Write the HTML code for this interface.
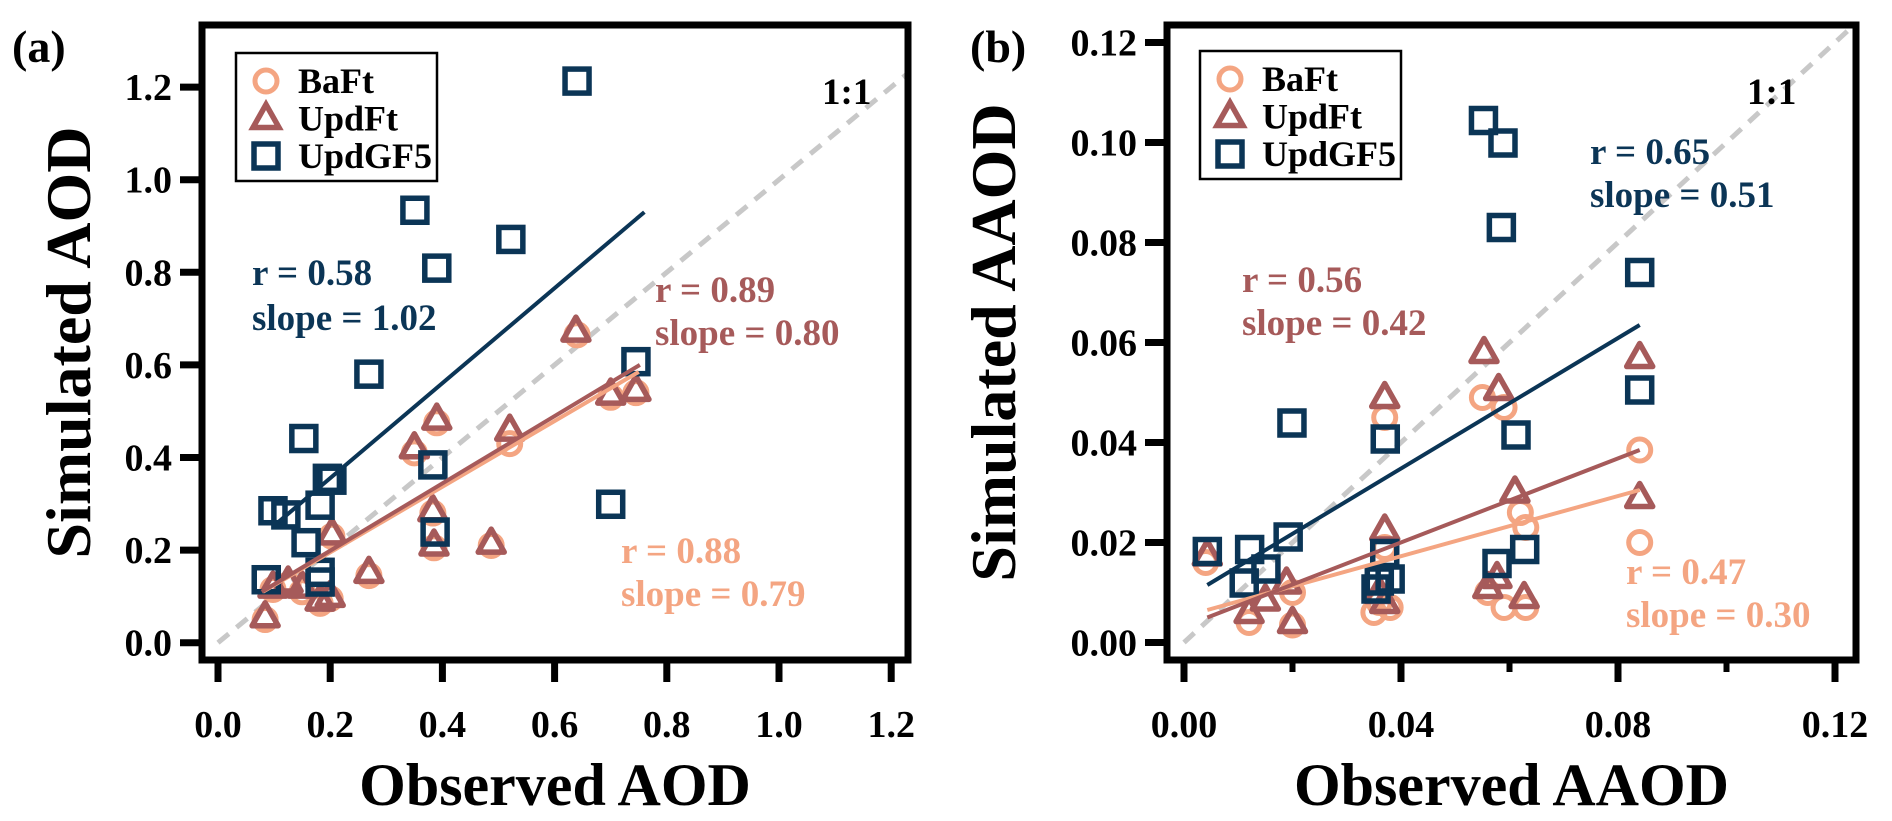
<!DOCTYPE html>
<html><head><meta charset="utf-8"><style>
html,body{margin:0;padding:0;background:#fff;}
svg{display:block;}
svg text{font-family:"Liberation Serif","Times New Roman","DejaVu Serif",serif;font-weight:bold;}
</style></head><body>
<svg id="chart" width="1892" height="821" viewBox="0 0 1892 821" xmlns="http://www.w3.org/2000/svg" font-family="Liberation Serif, serif" font-weight="bold"></svg>
<script>
// ---- Panel (a) data: AOD ----
const aXTicks = [0.0, 0.2, 0.4, 0.6, 0.8, 1.0, 1.2];
const aYTicks = [0.0, 0.2, 0.4, 0.6, 0.8, 1.0, 1.2];
const aBaFtX = [0.64,0.39,0.35,0.52,0.70,0.745,0.383,0.385,0.487,0.203,0.269,0.125,0.084,0.182,0.2,0.15,0.098];
const aBaFtY = [0.665,0.475,0.41,0.43,0.53,0.54,0.28,0.205,0.21,0.23,0.145,0.125,0.05,0.085,0.095,0.11,0.115];
const aUpdFtX = [0.638,0.39,0.35,0.52,0.70,0.745,0.383,0.385,0.487,0.203,0.269,0.125,0.084,0.182,0.2,0.15,0.098];
const aUpdFtY = [0.673,0.483,0.421,0.459,0.537,0.545,0.285,0.211,0.215,0.235,0.152,0.131,0.056,0.092,0.10,0.12,0.12];
const aGF5X = [0.64,0.351,0.522,0.39,0.269,0.745,0.153,0.203,0.195,0.383,0.098,0.121,0.182,0.157,0.70,0.387,0.182,0.182,0.086];
const aGF5Y = [1.213,0.934,0.871,0.809,0.58,0.607,0.441,0.351,0.355,0.384,0.285,0.276,0.297,0.216,0.299,0.239,0.152,0.131,0.136];
const aFitX = [[0.08,0.75],[0.078,0.752],[0.107,0.76]];
const aFitY = [[0.11,0.585],[0.11,0.60],[0.26,0.93]];
// ---- Panel (b) data: AAOD ----
const bXTicks = [0.00, 0.04, 0.08, 0.12];
const bXMinor = [0.02, 0.06, 0.10];
const bYTicks = [0.00, 0.02, 0.04, 0.06, 0.08, 0.10, 0.12];
const bBaFtX = [0.055,0.059,0.037,0.084,0.084,0.062,0.063,0.059,0.063,0.004,0.020,0.012,0.036,0.035,0.038,0.020,0.037,0.056];
const bBaFtY = [0.049,0.047,0.045,0.0385,0.020,0.026,0.023,0.007,0.007,0.016,0.0035,0.004,0.008,0.006,0.007,0.010,0.019,0.010];
const bUpdFtX = [0.0553,0.058,0.037,0.061,0.037,0.0043,0.0189,0.0577,0.084,0.084,0.0627,0.056,0.012,0.015,0.020,0.037,0.036];
const bUpdFtY = [0.058,0.0506,0.049,0.0301,0.0225,0.0175,0.0119,0.013,0.057,0.029,0.009,0.011,0.006,0.0085,0.004,0.008,0.010];
const bGF5X = [0.0552,0.0588,0.0585,0.0199,0.0371,0.0612,0.0043,0.0121,0.0192,0.0151,0.0111,0.037,0.036,0.038,0.0354,0.0577,0.0628,0.084,0.084];
const bGF5Y = [0.1044,0.0999,0.083,0.0439,0.0407,0.0415,0.0182,0.0186,0.0211,0.0147,0.0119,0.0178,0.0123,0.0127,0.0107,0.0158,0.0186,0.074,0.0505];
const bFitX = [[0.0043,0.084],[0.0043,0.084],[0.0043,0.084]];
const bFitY = [[0.0065,0.0305],[0.005,0.0385],[0.0115,0.0635]];

const C_BA = "#F4A582", C_UF = "#A65A5A", C_GF = "#0B3556";
const NS = "http://www.w3.org/2000/svg";
const FF = '"Liberation Serif", "Times New Roman", serif';
const svg = document.getElementById('chart');
function mk(tag, attrs, parent, text){
  const e = document.createElementNS(NS, tag);
  for (const k in attrs) e.setAttribute(k, attrs[k]);
  if (tag === 'text') { e.style.fontFamily = FF; e.style.fontWeight = 'bold'; }
  if (text !== undefined) e.textContent = text;
  (parent||svg).appendChild(e);
  return e;
}

function panel(P){
  const g = mk('g', {});
  
  
  const sx = v => P.x0 + v*P.kx, sy = v => P.y0 - v*P.ky;
  const cid = P.name + '-clip';
  const defs = mk('defs', {}, g);
  const cp = mk('clipPath', {id: cid}, defs);
  mk('rect', {x:P.L, y:P.T, width:P.R-P.L, height:P.B-P.T}, cp);
  const plot = mk('g', {'clip-path':'url(#'+cid+')'}, g);
  const d11 = mk('line', {x1:sx(P.oneFrom), y1:sy(P.oneFrom), x2:sx(P.oneTo), y2:sy(P.oneTo), stroke:'#c8c8c8', 'stroke-width':5, 'stroke-dasharray':'14 10'}, plot);
  
  
  const cols = [C_BA, C_UF, C_GF];
  const names = ['baft', 'updft', 'updgf5'];
  P.baX.forEach((v,i)=>{
    const c = mk('circle', {cx:sx(v), cy:sy(P.baY[i]), r:11, fill:'none', stroke:C_BA, 'stroke-width':5}, plot);
    
    
  });
  P.ufX.forEach((v,i)=>{
    const cx = sx(v), cy = sy(P.ufY[i]);
    const t = mk('polygon', {points:`${cx},${cy-14} ${cx+13},${cy+9} ${cx-13},${cy+9}`, fill:'none', stroke:C_UF, 'stroke-width':5.5, 'stroke-linejoin':'round'}, plot);
    
    
  });
  P.gfX.forEach((v,i)=>{
    const cx = sx(v), cy = sy(P.gfY[i]);
    const s = mk('rect', {x:cx-12, y:cy-12, width:24, height:24, fill:'none', stroke:C_GF, 'stroke-width':5.5}, plot);
    
    
  });
  P.fitX.forEach((fx,i)=>{
    const l = mk('line', {x1:sx(fx[0]), y1:sy(P.fitY[i][0]), x2:sx(fx[1]), y2:sy(P.fitY[i][1]), stroke:cols[i], 'stroke-width':4}, plot);
    
    
  });
  const fr = mk('rect', {x:P.L, y:P.T, width:P.R-P.L, height:P.B-P.T, fill:'none', stroke:'#000', 'stroke-width':7}, g);
  
  
  P.yTicks.forEach(v=>{
    const y = sy(v);
    mk('line', {x1:P.L-22, y1:y, x2:P.L, y2:y, stroke:'#000', 'stroke-width':7}, g);
    const t = mk('text', {x:P.L-30, y:y+13, 'text-anchor':'end', 'font-size':38}, g, v.toFixed(P.dec));
    
    
  });
  P.xTicks.forEach(v=>{
    const x = sx(v);
    mk('line', {x1:x, y1:P.B, x2:x, y2:P.B+22, stroke:'#000', 'stroke-width':7}, g);
    const t = mk('text', {x:x, y:P.B+77, 'text-anchor':'middle', 'font-size':38}, g, v.toFixed(P.dec));
    
    
  });
  (P.xMinor||[]).forEach(v=>{
    const x = sx(v);
    mk('line', {x1:x, y1:P.B, x2:x, y2:P.B+12, stroke:'#000', 'stroke-width':6}, g);
  });
  const xt = mk('text', {x:(P.L+P.R)/2, y:805, 'text-anchor':'middle', 'font-size':60}, g, P.xTitle);
  
  
  const yt = mk('text', {x:0, y:0, 'text-anchor':'middle', 'font-size':64, transform:`translate(${P.yTitleX},${(P.T+P.B)/2}) rotate(-90)`}, g, P.yTitle);
  
  
  const pl = mk('text', {x:P.labX, y:62, 'font-size':46}, g, P.label);
  
  
  const lg = mk('g', {}, g);
  
  
  mk('rect', {x:P.legX, y:P.legY, width:201, height:128, fill:'#fff', stroke:'#000', 'stroke-width':2.5}, lg);
  const labs = ['BaFt','UpdFt','UpdGF5'];
  labs.forEach((s,i)=>{
    const cy = P.legY + 28 + i*37.5, cx = P.legX + 30;
    const e = mk('g', {}, lg);
    
    
    if (i===0) mk('circle', {cx:cx, cy:cy, r:11, fill:'none', stroke:C_BA, 'stroke-width':5}, e);
    if (i===1) mk('polygon', {points:`${cx},${cy-14} ${cx+13},${cy+9} ${cx-13},${cy+9}`, fill:'none', stroke:C_UF, 'stroke-width':5.5}, e);
    if (i===2) mk('rect', {x:cx-12, y:cy-12, width:24, height:24, fill:'none', stroke:C_GF, 'stroke-width':5.5}, e);
    mk('text', {x:P.legX+62, y:cy+12, 'font-size':36}, e, s);
  });
  P.ann.forEach(a=>{
    const t = mk('text', {x:a[0], y:a[1], 'font-size':37, fill:a[3]}, g, a[2]);
    
    
  });
}

panel({name:'panel-a', L:202, R:908, T:25, B:660, x0:218, kx:561, y0:642.7, ky:463,
  oneFrom:0, oneTo:1.25, dec:1, xTicks:aXTicks, yTicks:aYTicks,
  baX:aBaFtX, baY:aBaFtY, ufX:aUpdFtX, ufY:aUpdFtY, gfX:aGF5X, gfY:aGF5Y, fitX:aFitX, fitY:aFitY,
  xTitle:'Observed AOD', yTitle:'Simulated AOD', yTitleX:90, label:'(a)', labX:12,
  legX:236, legY:53,
  ann:[[252,285,'r = 0.58',C_GF],[252,330,'slope = 1.02',C_GF],[655,302,'r = 0.89',C_UF],[655,345,'slope = 0.80',C_UF],
       [621,563,'r = 0.88',C_BA],[621,606,'slope = 0.79',C_BA],[822,104,'1:1','#000']]});

panel({name:'panel-b', L:1167, R:1856, T:25, B:660, x0:1184, kx:5425, y0:642.5, ky:5000,
  oneFrom:0, oneTo:0.125, dec:2, xTicks:bXTicks, xMinor:bXMinor, yTicks:bYTicks,
  baX:bBaFtX, baY:bBaFtY, ufX:bUpdFtX, ufY:bUpdFtY, gfX:bGF5X, gfY:bGF5Y, fitX:bFitX, fitY:bFitY,
  xTitle:'Observed AAOD', yTitle:'Simulated AAOD', yTitleX:1015, label:'(b)', labX:970,
  legX:1200, legY:51,
  ann:[[1242,292,'r = 0.56',C_UF],[1242,335,'slope = 0.42',C_UF],[1590,164,'r = 0.65',C_GF],[1590,207,'slope = 0.51',C_GF],
       [1626,584,'r = 0.47',C_BA],[1626,627,'slope = 0.30',C_BA],[1747,104,'1:1','#000']]});
</script>
</body></html>
